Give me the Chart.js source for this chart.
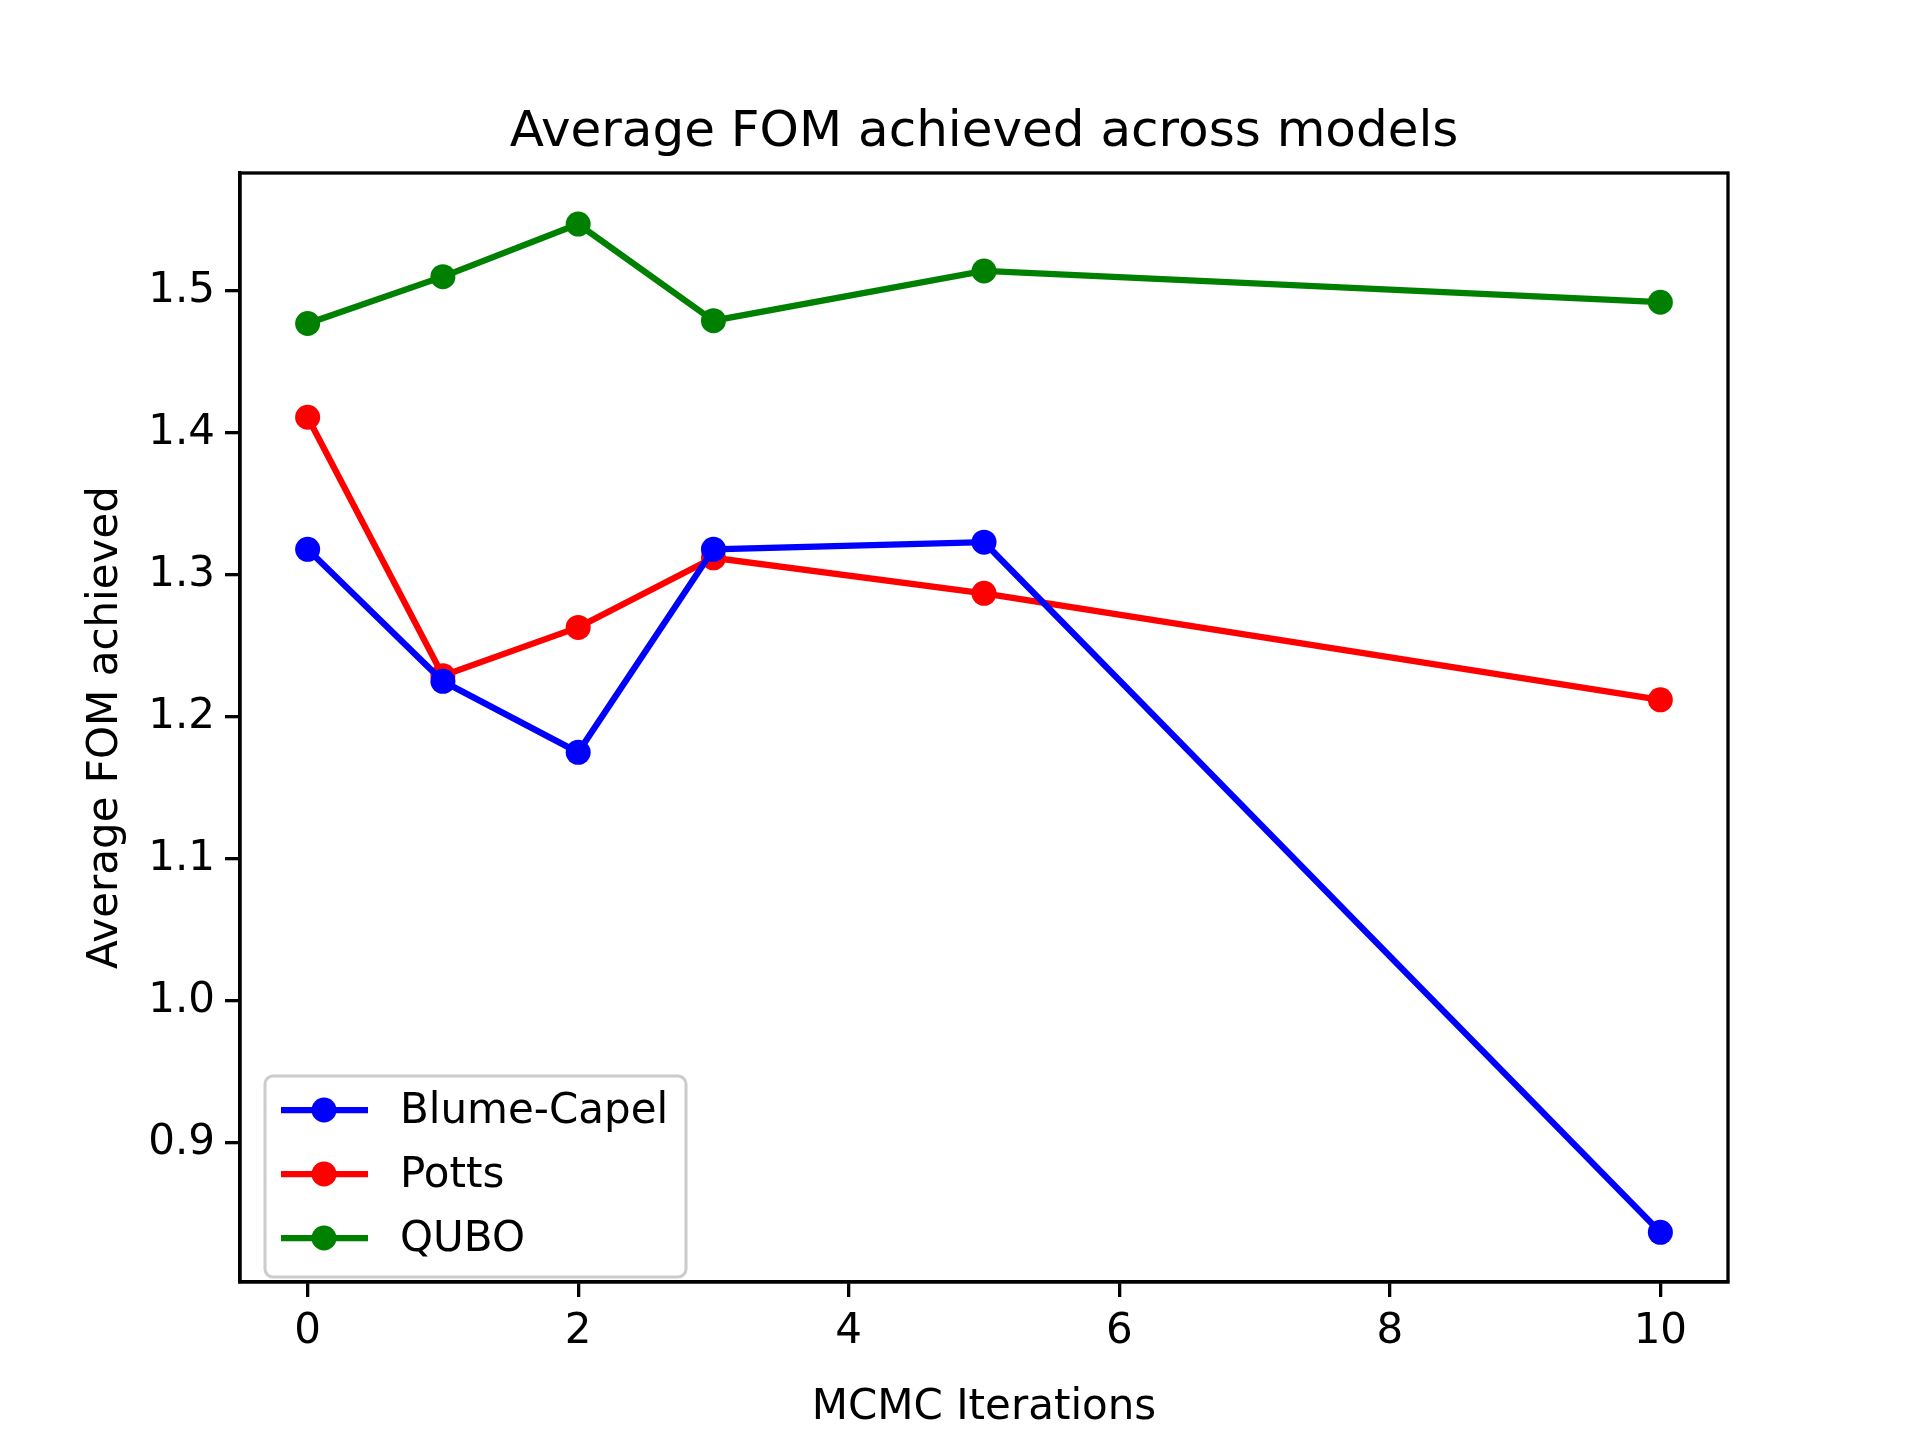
<!DOCTYPE html>
<html>
<head>
<meta charset="utf-8">
<script src="https://cdn.jsdelivr.net/npm/chart.js@4.4.0/dist/chart.umd.min.js"></script>
<style>
  html, body { margin: 0; padding: 0; background: #fff; }
  #wrap { width: 1920px; height: 1440px; }
</style>
</head>
<body>
<div id="wrap"><canvas id="chart" width="1920" height="1440"></canvas></div>
<script>
// data
const iterations = [0, 1, 2, 3, 5, 10];
const blumeCapel = [1.318, 1.225, 1.175, 1.318, 1.323, 0.837];
const potts      = [1.411, 1.229, 1.263, 1.312, 1.287, 1.212];
const qubo       = [1.477, 1.510, 1.547, 1.479, 1.514, 1.492];
const seriesNames = ['Blume-Capel', 'Potts', 'QUBO'];
const seriesColors = ['#0000ff', '#ff0000', '#008000'];

const FONT = 'DejaVu Sans';

function toPoints(ys) {
    return iterations.map((x, i) => ({ x, y: ys[i] }));
}

/* ===== frame, title, axis labels, legend ===== */
const decorations = {
    id: 'decorations',
    afterDraw(chart) {
        const { ctx, chartArea: a } = chart;
        ctx.save();
        ctx.strokeStyle = '#000';
        ctx.lineWidth = 3.3;
        ctx.strokeRect(a.left, a.top, a.right - a.left, a.bottom - a.top);

        ctx.fillStyle = '#000';
        ctx.textAlign = 'center';
        ctx.textBaseline = 'middle';
        ctx.font = `50px ${FONT}`;
        ctx.fillText('Average FOM achieved across models', (a.left + a.right) / 2, 133);

        ctx.font = `42px ${FONT}`;
        ctx.fillText('MCMC Iterations', (a.left + a.right) / 2, 1408);
        ctx.save();
        ctx.translate(106, (a.top + a.bottom) / 2);
        ctx.rotate(-Math.PI / 2);
        ctx.fillText('Average FOM achieved', 0, 0);
        ctx.restore();

        // legend box
        const bx = 265, by = 1076, bw = 421, bh = 201;
        ctx.fillStyle = 'rgba(255,255,255,0.8)';
        ctx.strokeStyle = '#cccccc';
        ctx.lineWidth = 3;
        ctx.beginPath();
        ctx.roundRect(bx, by, bw, bh, 8);
        ctx.fill();
        ctx.stroke();

        ctx.textAlign = 'left';
        ctx.font = `42px ${FONT}`;
        seriesNames.forEach((name, i) => {
            const y = 1110 + i * 64;
            ctx.strokeStyle = seriesColors[i];
            ctx.lineWidth = 6.25;
            ctx.beginPath();
            ctx.moveTo(281, y);
            ctx.lineTo(368, y);
            ctx.stroke();
            ctx.fillStyle = seriesColors[i];
            ctx.beginPath();
            ctx.arc(324, y, 12.5, 0, Math.PI * 2);
            ctx.fill();
            ctx.fillStyle = '#000';
            ctx.fillText(name, 400, y + 2);
        });
        ctx.restore();
    }
};

new Chart(document.getElementById('chart'), {
    type: 'line',
    data: {
        datasets: [blumeCapel, potts, qubo].map((ys, i) => ({
            label: seriesNames[i],
            data: toPoints(ys),
            borderColor: seriesColors[i],
            backgroundColor: seriesColors[i],
            borderWidth: 6.25,
            pointRadius: 12.5,
            pointBorderWidth: 0,
            tension: 0
        }))
    },
    options: {
        responsive: false,
        animation: false,
        devicePixelRatio: 1,
        layout: { padding: { top: 173, right: 192, left: 0, bottom: 0 } },
        plugins: { legend: { display: false }, title: { display: false }, tooltip: { enabled: false } },
        scales: {
            x: {
                type: 'linear',
                min: -0.5,
                max: 10.5,
                afterFit(scale) { scale.height = 158; },
                afterBuildTicks(scale) {
                    scale.ticks = [0, 2, 4, 6, 8, 10].map(v => ({ value: v }));
                },
                grid: { drawOnChartArea: false, drawTicks: true, tickLength: 15, color: '#000', lineWidth: 3.3 },
                border: { display: true, color: '#000', width: 3.3 },
                ticks: { color: '#000', font: { family: FONT, size: 42 }, padding: 10, maxRotation: 0 }
            },
            y: {
                min: 0.802,
                max: 1.583,
                afterFit(scale) { scale.width = 240; },
                afterBuildTicks(scale) {
                    scale.ticks = [0.9, 1.0, 1.1, 1.2, 1.3, 1.4, 1.5].map(v => ({ value: v }));
                },
                grid: { drawOnChartArea: false, drawTicks: true, tickLength: 15, color: '#000', lineWidth: 3.3 },
                border: { display: true, color: '#000', width: 3.3 },
                ticks: {
                    color: '#000',
                    font: { family: FONT, size: 42 },
                    padding: 10,
                    callback: v => v.toFixed(1)
                }
            }
        }
    },
    plugins: [decorations]
});
</script>
</body>
</html>
